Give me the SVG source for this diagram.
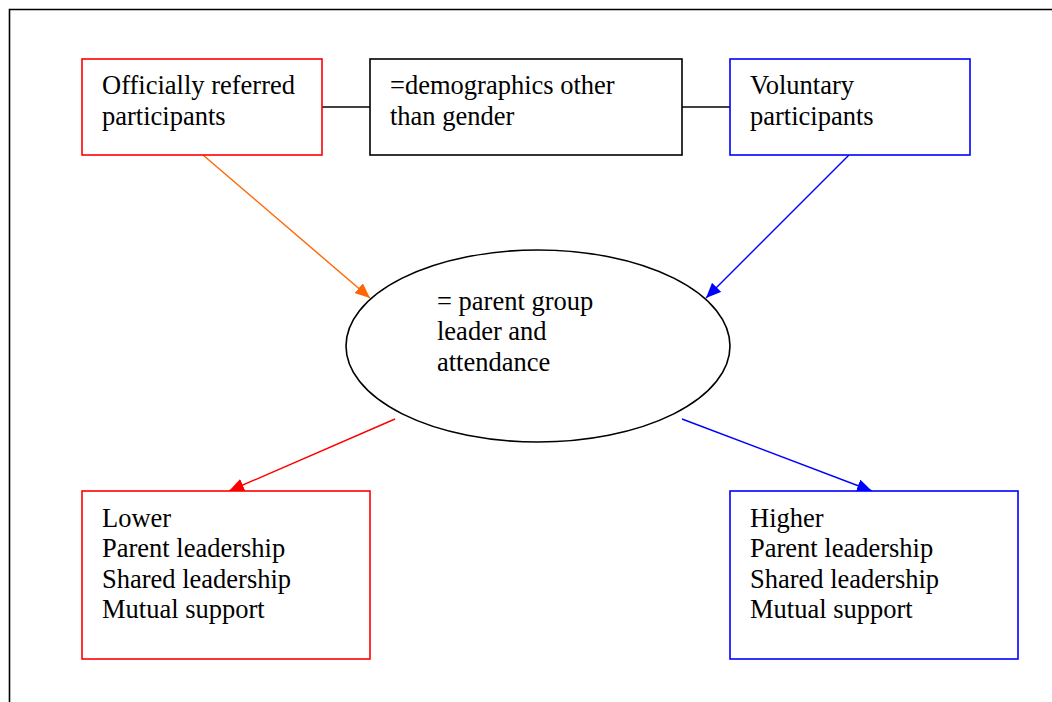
<svg xmlns="http://www.w3.org/2000/svg" width="1052" height="702" viewBox="0 0 1052 702">
<style>
text{font-family:"Liberation Serif","Times New Roman",serif;font-size:26.5px;fill:#000}
.box{fill:#fff;stroke-width:1.6}
.line{fill:none;stroke-width:1.4}
</style>
<defs>
<marker id="aO" markerWidth="15" markerHeight="13" refX="15" refY="6.5" orient="auto" markerUnits="userSpaceOnUse" viewBox="0 0 15 13"><path d="M0,0L15,6.5L0,13z" fill="#ff6600"/></marker>
<marker id="aB" markerWidth="15" markerHeight="13" refX="15" refY="6.5" orient="auto" markerUnits="userSpaceOnUse" viewBox="0 0 15 13"><path d="M0,0L15,6.5L0,13z" fill="#0000ff"/></marker>
<marker id="aR" markerWidth="15" markerHeight="13" refX="15" refY="6.5" orient="auto" markerUnits="userSpaceOnUse" viewBox="0 0 15 13"><path d="M0,0L15,6.5L0,13z" fill="#ff0000"/></marker>
</defs>
<rect width="1052" height="702" fill="#fff"/>
<path d="M9.5,702V9.5H1052" fill="none" stroke="#000" stroke-width="1.6"/>
<g id="connectors">
<line class="line" x1="322" y1="107" x2="370" y2="107" stroke="#000"/>
<line class="line" x1="682" y1="107" x2="730" y2="107" stroke="#000"/>
<line class="line" x1="203" y1="155" x2="370" y2="298" stroke="#ff6600" marker-end="url(#aO)"/>
<line class="line" x1="849" y1="155" x2="706" y2="298" stroke="#0000ff" marker-end="url(#aB)"/>
<line class="line" x1="395" y1="419" x2="229" y2="491" stroke="#ff0000" marker-end="url(#aR)"/>
<line class="line" x1="682" y1="419" x2="872" y2="491" stroke="#0000ff" marker-end="url(#aB)"/>
</g>
<g id="official">
<rect class="box" x="82" y="59" width="240" height="96" stroke="#ff0000"/>
<text x="102" y="94">Officially referred</text>
<text x="102" y="125">participants</text>
</g>
<g id="demographics">
<rect class="box" x="370" y="59" width="312" height="96" stroke="#000"/>
<text x="390" y="94">=demographics other</text>
<text x="390" y="125">than gender</text>
</g>
<g id="voluntary">
<rect class="box" x="730" y="59" width="240" height="96" stroke="#0000ff"/>
<text x="750" y="94">Voluntary</text>
<text x="750" y="125">participants</text>
</g>
<g id="leader">
<ellipse cx="538" cy="346" rx="192" ry="96" fill="none" stroke="#000" stroke-width="1.6"/>
<text x="437" y="310">= parent group</text>
<text x="437" y="340">leader and</text>
<text x="437" y="371">attendance</text>
</g>
<g id="lower">
<rect class="box" x="82" y="491" width="288" height="168" stroke="#ff0000"/>
<text x="102" y="527">Lower</text>
<text x="102" y="557">Parent leadership</text>
<text x="102" y="588">Shared leadership</text>
<text x="102" y="618">Mutual support</text>
</g>
<g id="higher">
<rect class="box" x="730" y="491" width="288" height="168" stroke="#0000ff"/>
<text x="750" y="527">Higher</text>
<text x="750" y="557">Parent leadership</text>
<text x="750" y="588">Shared leadership</text>
<text x="750" y="618">Mutual support</text>
</g>
</svg>
